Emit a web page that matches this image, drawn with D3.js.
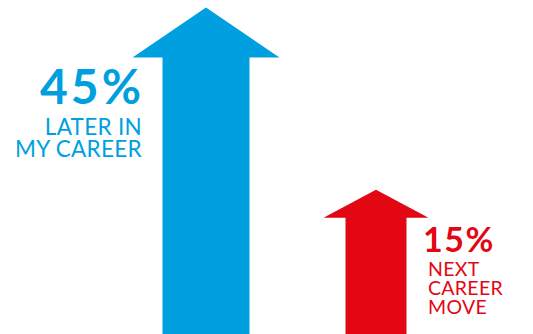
<!DOCTYPE html>
<html>
<head>
<meta charset="utf-8">
<script src="https://cdn.jsdelivr.net/npm/d3@7"></script>
<style>
  body { margin: 0; background: #fff; }
  svg { display: block; font-family: Lato, "Noto Sans", sans-serif; }
</style>
</head>
<body>
<svg width="533" height="334"></svg>
<script>
// data
const categories = ['LATER IN MY CAREER', 'NEXT CAREER MOVE'];
const values = [45, 15];
const labelLines = [['LATER IN', 'MY CAREER'], ['NEXT', 'CAREER', 'MOVE']];
const colors = ['#009fe0', '#e30613'];

const data = categories.map((c, i) => ({ cat: c, value: values[i], lines: labelLines[i], color: colors[i] }));

const svg = d3.select('svg');
const H = 334;

// scales
const x = d3.scalePoint().domain(categories).range([206, 376]);
const y = d3.scaleLinear().domain([0, 45]).range([281, 7.5]);
const shaftW = d3.scaleLinear().domain([15, 45]).range([61, 87]);
const headW = d3.scaleLinear().domain([15, 45]).range([105, 147]);
const headH = d3.scaleLinear().domain([15, 45]).range([28, 50]);

const arrowPath = d => {
  const cx = x(d.cat), top = y(d.value);
  const sw = shaftW(d.value) / 2, hw = headW(d.value) / 2, hh = headH(d.value);
  return `M${cx},${top} L${cx + hw},${top + hh} L${cx + sw},${top + hh} L${cx + sw},${H}
          L${cx - sw},${H} L${cx - sw},${top + hh} L${cx - hw},${top + hh} Z`;
};

svg.selectAll('path.arrow')
  .data(data)
  .enter()
  .append('path')
    .attr('class', 'arrow')
    .attr('d', arrowPath)
    .attr('fill', d => d.color);

// labels: first one sits left of its arrow, second right of it
const labelPos = [
  { x: 144, y: 104, anchor: 'end', big: 48, small: 22.5, lh: 22, ls: 3, gap: 31 },
  { x: 423, y: 252, anchor: 'start', big: 34, small: 19.5, lh: 19, ls: 1.5, gap: 24 }
];

const labels = svg.selectAll('g.label')
  .data(data)
  .enter()
  .append('g')
    .attr('class', 'label')
    .attr('fill', d => d.color)
    .attr('text-anchor', (d, i) => labelPos[i].anchor);

labels.append('text')
  .attr('x', (d, i) => labelPos[i].x)
  .attr('y', (d, i) => labelPos[i].y)
  .attr('font-size', (d, i) => labelPos[i].big)
  .attr('letter-spacing', (d, i) => labelPos[i].ls)
  .attr('font-weight', 700)
  .text(d => d.value + '%');

labels.each(function(d, i) {
  const p = labelPos[i];
  d3.select(this).selectAll('text.line')
    .data(d.lines)
    .enter()
    .append('text')
      .attr('class', 'line')
      .attr('x', p.anchor === 'start' ? p.x + 5 : p.x - 2)
      .attr('y', (t, j) => p.y + p.gap + j * p.lh)
      .attr('font-size', p.small)
      .attr('letter-spacing', 0.3)
      .attr('font-weight', 400)
      .text(t => t);
});
</script>
</body>
</html>
